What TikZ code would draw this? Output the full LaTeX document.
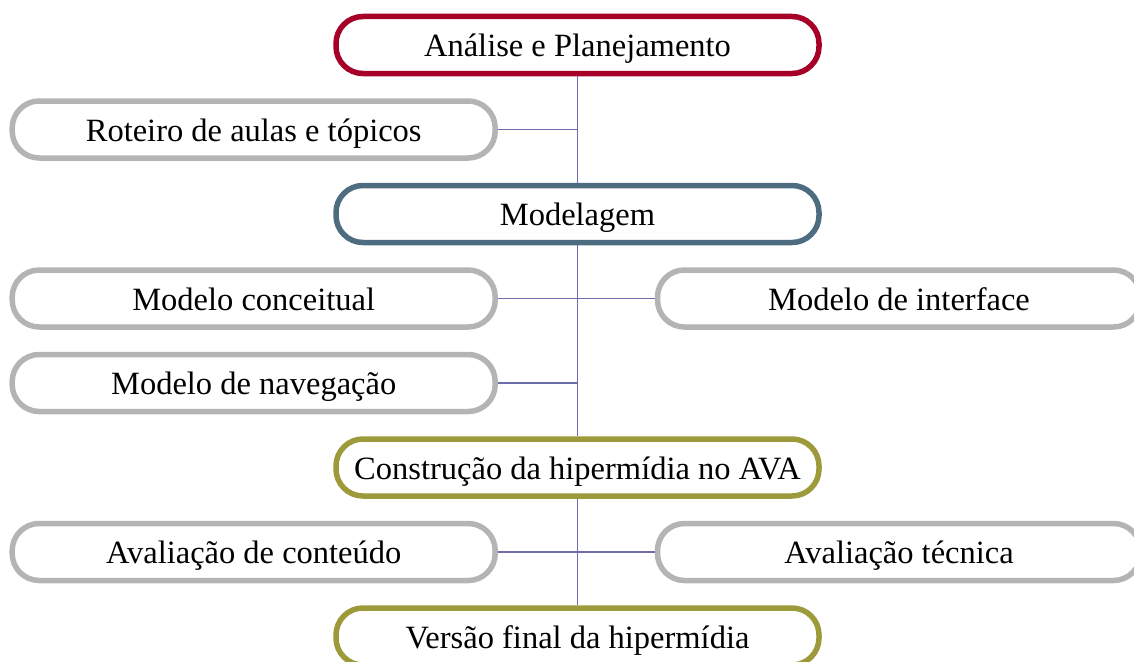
\documentclass[tikz,border=0pt]{standalone}
\usepackage{fontspec}
\setmainfont{Liberation Serif}
\definecolor{fasered}{RGB}{166,0,40}
\definecolor{faseblue}{RGB}{78,108,128}
\definecolor{faseolive}{RGB}{156,154,58}
\definecolor{etapagray}{RGB}{180,180,180}
\definecolor{linkviolet}{RGB}{108,108,170}
\begin{document}
\begin{tikzpicture}[x=1pt, y=-1pt,
  box/.style={draw, line width=5.5pt, rounded corners=27pt, fill=white,
    minimum width=483pt, minimum height=57pt, inner sep=0pt,
    text height=23.4pt, text depth=0pt,
    font=\fontsize{32.5}{37}\selectfont},
  fase/.style={box, draw=#1},
  etapa/.style={box, draw=etapagray},
  link/.style={draw=linkviolet, line width=1.5pt}]
  \useasboundingbox (0, 0) rectangle (1134, 661);
  \clip (0, 0) rectangle (1134, 661);
  % fases ao centro
  \path (577.5, 45) node[name=analise, fase=fasered] {Análise e Planejamento};
  \path (577.5, 214) node[name=modelagem, fase=faseblue] {Modelagem};
  \path (577.5, 467.5) node[name=construcao, fase=faseolive] {Construção da hipermídia no AVA};
  \path (577.5, 636.5) node[name=versao, fase=faseolive] {Versão final da hipermídia};
  % etapas laterais
  \path (253.7, 129.5) node[name=roteiro, etapa] {Roteiro de aulas e tópicos};
  \path (253.7, 298.5) node[name=conceitual, etapa] {Modelo conceitual};
  \path (899, 298.5) node[name=interface, etapa] {Modelo de interface};
  \path (253.7, 383) node[name=navegacao, etapa] {Modelo de navegação};
  \path (253.7, 552) node[name=conteudo, etapa] {Avaliação de conteúdo};
  \path (899, 552) node[name=tecnica, etapa] {Avaliação técnica};
  % ligacoes
  \draw[link] (analise.south) -- (modelagem.north);
  \draw[link] (modelagem.south) -- (construcao.north);
  \draw[link] (construcao.south) -- (versao.north);
  \draw[link] (roteiro.east) -- (roteiro.east -| analise.south);
  \draw[link] (conceitual.east) -- (interface.west);
  \draw[link] (navegacao.east) -- (navegacao.east -| modelagem.south);
  \draw[link] (conteudo.east) -- (tecnica.west);
\end{tikzpicture}
\end{document}
